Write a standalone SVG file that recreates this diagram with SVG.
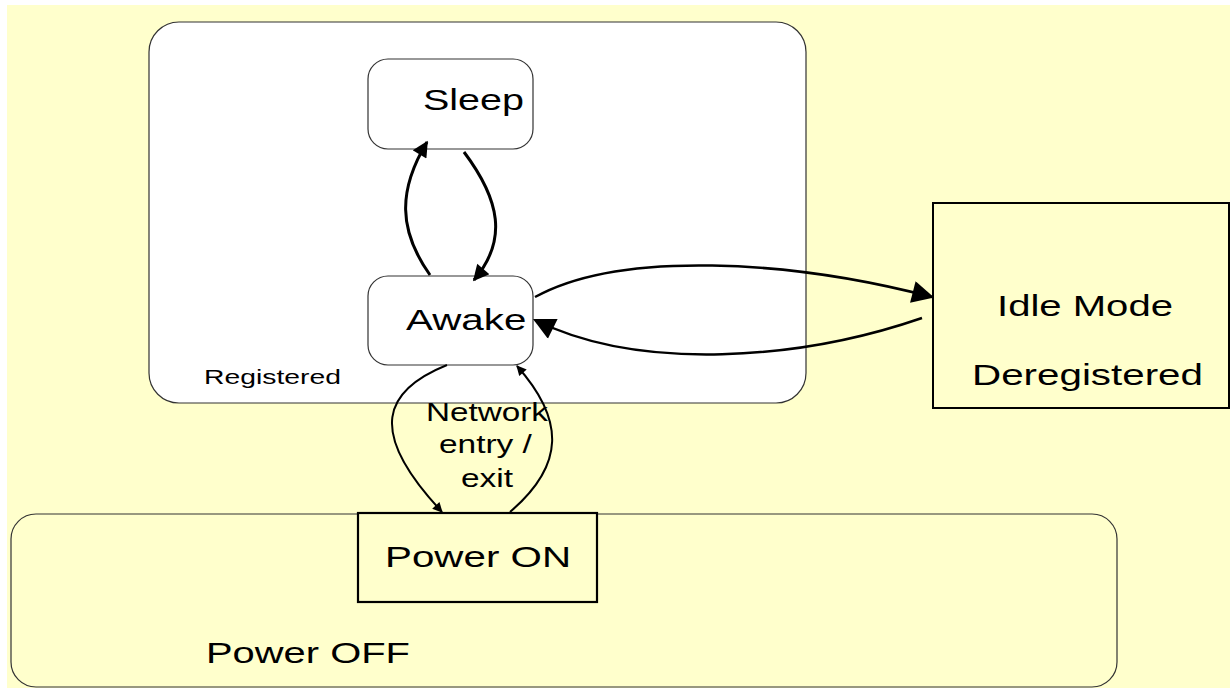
<svg xmlns="http://www.w3.org/2000/svg" width="1230" height="688" viewBox="0 0 1230 688">
<defs>
<style>
.t{font-family:"Liberation Sans",Arial,sans-serif;fill:#000}
.big{font-size:29px}
.sm{font-size:20px}
.mid{font-size:25px}
.rr{fill:#fff;stroke:#333;stroke-width:1.2}
.c{fill:none;stroke:#000}
</style>
<marker id="ahL" viewBox="0 0 10 10" refX="9" refY="5" markerWidth="30" markerHeight="22" markerUnits="userSpaceOnUse" orient="auto"><path d="M0,0 L10,5 L0,10 z" fill="#000"/></marker>
<marker id="ahM" viewBox="0 0 10 10" refX="9" refY="5" markerWidth="20" markerHeight="16" markerUnits="userSpaceOnUse" orient="auto"><path d="M0,0 L10,5 L0,10 z" fill="#000"/></marker>
<marker id="ahS" viewBox="0 0 10 10" refX="9" refY="5" markerWidth="12" markerHeight="10" markerUnits="userSpaceOnUse" orient="auto"><path d="M0,0 L10,5 L0,10 z" fill="#000"/></marker>
</defs>
<rect x="0" y="0" width="1230" height="688" fill="#fff"/>
<rect x="7" y="5" width="1223" height="683" fill="#ffffcc"/>

<g id="registered">
<rect x="149" y="22" width="657" height="381" rx="30" ry="30" class="rr"/>
<text transform="translate(204,384) scale(1.417,1)" class="t sm">Registered</text>
</g>

<g id="power-off">
<rect x="11" y="514" width="1106" height="173" rx="25" ry="25" fill="#ffffcc" stroke="#333" stroke-width="1.2"/>
<text transform="translate(206,663) scale(1.376,1)" class="t big">Power OFF</text>
</g>

<g id="sleep">
<rect x="368" y="59" width="165" height="90" rx="20" ry="20" class="rr"/>
<text transform="translate(423,110) scale(1.362,1)" class="t big">Sleep</text>
</g>

<g id="awake">
<rect x="368" y="276" width="165" height="89" rx="20" ry="20" class="rr"/>
<text transform="translate(406,330) scale(1.391,1)" class="t big">Awake</text>
</g>

<g id="idle">
<rect x="933" y="203" width="296" height="205" fill="#ffffcc" stroke="#000" stroke-width="2"/>
<text transform="translate(997,316) scale(1.382,1)" class="t big">Idle Mode</text>
<text transform="translate(972,385) scale(1.392,1)" class="t big">Deregistered</text>
</g>

<g id="power-on">
<rect x="358" y="513" width="239" height="89" fill="#ffffcc" stroke="#000" stroke-width="2.2"/>
<text transform="translate(385,567) scale(1.391,1)" class="t big">Power ON</text>
</g>

<g id="connectors">
<path class="c" stroke-width="3" d="M430,275 C398,230 398,190 427,142" marker-end="url(#ahM)"/>
<path class="c" stroke-width="3" d="M464,152 C500,200 508,240 474,280" marker-end="url(#ahM)"/>
<path class="c" stroke-width="2.5" d="M535,297 C620,250 790,260 932,297" marker-end="url(#ahL)"/>
<path class="c" stroke-width="2.5" d="M922,318 C800,360 640,372 535,320" marker-end="url(#ahL)"/>
<path class="c" stroke-width="2" d="M447,365 C385,390 365,430 442,512" marker-end="url(#ahS)"/>
<path class="c" stroke-width="2" d="M510,512 C565,465 565,420 517,366" marker-end="url(#ahS)"/>
<text transform="translate(426,421) scale(1.331,1)" class="t mid">Network</text>
<text transform="translate(439,453) scale(1.338,1)" class="t mid">entry /</text>
<text transform="translate(461,487) scale(1.337,1)" class="t mid">exit</text>
</g>
</svg>
